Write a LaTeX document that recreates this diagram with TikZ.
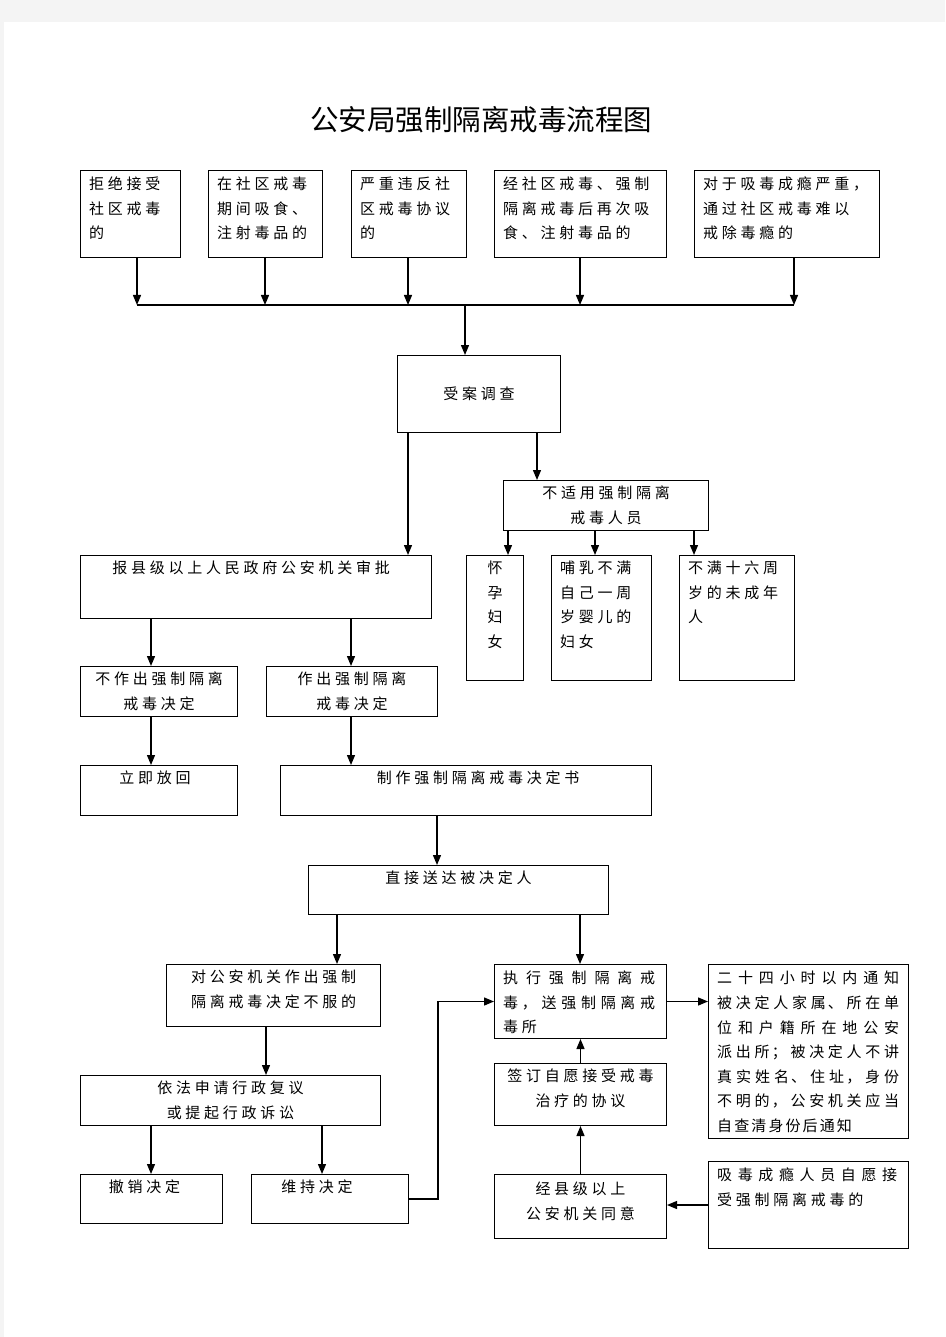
\documentclass[tikz,border=0pt]{standalone}
\usepackage{fontspec}
\setmainfont{Noto Sans CJK SC}
\newfontfamily\flowfamily{Noto Sans CJK SC}[LetterSpace=25]
\newfontfamily\notefamily{Noto Sans CJK SC}[LetterSpace=14]
\newcommand\flowfont{\flowfamily\fontsize{15}{24.5}\selectfont}
\newcommand\notefont{\notefamily\fontsize{15}{24.6}\selectfont\XeTeXlinebreakskip=2.1pt plus 8pt\relax}
\newcommand\headfont{\fontsize{28.5}{31}\selectfont}
\XeTeXlinebreaklocale "zh"
\XeTeXlinebreakskip=3.75pt plus 8pt
\usetikzlibrary{arrows.meta,positioning}
\definecolor{pagegray}{HTML}{F4F4F4}
\begin{document}
\begin{tikzpicture}[x=1pt,y=-1pt,
box/.style={draw,line width=1pt,anchor=north west,inner sep=0pt},
txt/.style={inner sep=0pt,font=\flowfont,align=left},
ctxt/.style={inner sep=0pt,font=\flowfont,align=center},
jtxt/.style={inner sep=0pt,font=\flowfont,align=justify},
line/.style={line width=1.3pt},
arr/.style={line width=1.3pt,-{Triangle[length=10pt,width=8pt]}}]
\useasboundingbox(0,0)rectangle(945,1337);
\fill[pagegray](0,0)rectangle(945,1337);
\fill[white](4,22)rectangle(945,1337);
\node[font=\headfont](title)at(481,120){公安局强制隔离戒毒流程图};
% top row
\node[box,minimum width=100,minimum height=87](refuse)at(80,170){};
\node[box,minimum width=114,minimum height=87](during)at(208,170){};
\node[box,minimum width=115,minimum height=87](breach)at(351,170){};
\node[box,minimum width=172,minimum height=87](relapse)at(494,170){};
\node[box,minimum width=185,minimum height=87](severe)at(694,170){};
\node[txt,below right=7pt and 9pt of refuse.north west](refuse-t){拒绝接受\\社区戒毒\\的};
\node[txt,below right=7pt and 9pt of during.north west](during-t){在社区戒毒\\期间吸食、\\注射毒品的};
\node[txt,below right=7pt and 9pt of breach.north west](breach-t){严重违反社\\区戒毒协议\\的};
\node[txt,below right=7pt and 9pt of relapse.north west](relapse-t){经社区戒毒、强制\\隔离戒毒后再次吸\\食、注射毒品的};
\node[txt,below right=7pt and 9pt of severe.north west](severe-t){对于吸毒成瘾严重，\\通过社区戒毒难以\\戒除毒瘾的};
\coordinate(bus)at(465,305);
\foreach \b/\d in {refuse/57,during/57,breach/57,relapse/86,severe/100}
  \draw[arr](\b.south west)++(\d,0)coordinate(\b-d)--(\b-d|-bus);
\draw[line](refuse-d|-bus)--(severe-d|-bus);
% investigation
\node[box,minimum width=163,minimum height=77](accept)at(397,355){};
\node[ctxt](accept-t)at(accept){受案调查};
\draw[arr](bus)--(bus|-accept.north);
\node[box,minimum width=205,minimum height=50](unfit)at(503,480){};
\node[ctxt](unfit-t)at(unfit){不适用强制隔离\\戒毒人员};
\node[box,minimum width=57,minimum height=125](pregnant)at(466,555){};
\node[box,minimum width=100,minimum height=125](nursing)at(551,555){};
\node[box,minimum width=115,minimum height=125](minor)at(679,555){};
\node[ctxt,below=6pt of pregnant.north](pregnant-t){怀\\孕\\妇\\女};
\node[txt,below right=6pt and 9pt of nursing.north west](nursing-t){哺乳不满\\自己一周\\岁婴儿的\\妇女};
\node[txt,below right=6pt and 9pt of minor.north west](minor-t){不满十六周\\岁的未成年\\人};
\node[box,minimum width=351,minimum height=63](report)at(80,555){};
\node[ctxt,below=6pt of report.north,xshift=-5pt](report-t){报县级以上人民政府公安机关审批};
\draw[arr](accept.south west)++(11,0)coordinate(p)--(p|-report.north);
\draw[arr](accept.south west)++(140,0)coordinate(p)--(p|-unfit.north);
\foreach \b/\d in {pregnant/5,nursing/92,minor/191}
  \draw[arr](unfit.south west)++(\d,0)coordinate(p)--(p|-\b.north);
% decision
\node[box,minimum width=157,minimum height=50](nodec)at(80,666){};
\node[box,minimum width=171,minimum height=50](dec)at(266,666){};
\node[ctxt](nodec-t)at(nodec){不作出强制隔离\\戒毒决定};
\node[ctxt](dec-t)at(dec){作出强制隔离\\戒毒决定};
\draw[arr](report.south west)++(71,0)coordinate(p)--(p|-nodec.north);
\draw[arr](report.south west)++(271,0)coordinate(p)--(p|-dec.north);
\node[box,minimum width=157,minimum height=50](release)at(80,765){};
\node[box,minimum width=371,minimum height=50](write)at(280,765){};
\node[ctxt,below=6pt of release.north,xshift=-4pt](release-t){立即放回};
\node[ctxt,below=6pt of write.north,xshift=12pt](write-t){制作强制隔离戒毒决定书};
\draw[arr](nodec.south west)++(71,0)coordinate(p)--(p|-release.north);
\draw[arr](dec.south west)++(85,0)coordinate(p)--(p|-write.north);
\node[box,minimum width=300,minimum height=49](deliver)at(308,865){};
\node[ctxt,below=6pt of deliver.north](deliver-t){直接送达被决定人};
\draw[arr](write.south west)++(157,0)coordinate(p)--(p|-deliver.north);
% appeal and execution
\node[box,minimum width=214,minimum height=62](object)at(166,964){};
\node[ctxt,below=6pt of object.north](object-t){对公安机关作出强制\\隔离戒毒决定不服的};
\node[box,minimum width=172,minimum height=74](exec)at(494,964){};
\node[jtxt,text width=152,below right=7pt and 9pt of exec.north west](exec-t){执行强制隔离戒\linebreak 毒，送强制隔离戒\linebreak 毒所};
\node[box,minimum width=200,minimum height=174](notify)at(708,964){};
\node[jtxt,text width=182,below right=7pt and 9pt of notify.north west,font=\notefont](notify-t){二十四小时以内通知\linebreak 被决定人家属、所在单\linebreak 位和户籍所在地公安\linebreak 派出所；被决定人不讲\linebreak 真实姓名、住址，身份\linebreak 不明的，公安机关应当\linebreak 自查清身份后通知};
\draw[arr](deliver.south west)++(29,0)coordinate(p)--(p|-object.north);
\draw[arr](deliver.south west)++(272,0)coordinate(p)--(p|-exec.north);
\draw[arr](exec.east)--(exec.east-|notify.west);
\node[box,minimum width=300,minimum height=50](review)at(80,1075){};
\node[ctxt](review-t)at(review){依法申请行政复议\\或提起行政诉讼};
\draw[arr](object.south west)++(100,0)coordinate(p)--(p|-review.north);
\node[box,minimum width=142,minimum height=49](revoke)at(80,1174){};
\node[box,minimum width=157,minimum height=49](uphold)at(251,1174){};
\node[ctxt,below=6pt of revoke.north,xshift=-7pt](revoke-t){撤销决定};
\node[ctxt,below=6pt of uphold.north,xshift=-13pt](uphold-t){维持决定};
\draw[arr](review.south west)++(71,0)coordinate(p)--(p|-revoke.north);
\draw[arr](review.south west)++(242,0)coordinate(p)--(p|-uphold.north);
\draw[arr](uphold.east)--++(29,0)|-(exec.west);
% voluntary
\node[box,minimum width=172,minimum height=62](sign)at(494,1063){};
\node[ctxt,below=6pt of sign.north](sign-t){签订自愿接受戒毒\\治疗的协议};
\node[box,minimum width=172,minimum height=64](agree)at(494,1174){};
\node[ctxt,below=8pt of agree.north](agree-t){经县级以上\\公安机关同意};
\node[box,minimum width=200,minimum height=87](volunt)at(708,1161){};
\node[jtxt,text width=180,below right=7pt and 9pt of volunt.north west](volunt-t){吸毒成瘾人员自愿接\linebreak 受强制隔离戒毒的};
\draw[arr](sign.north)--(exec.south);
\draw[arr](agree.north)--(sign.south);
\draw[arr](volunt.west)--(volunt.west-|agree.east);
\end{tikzpicture}
\end{document}
